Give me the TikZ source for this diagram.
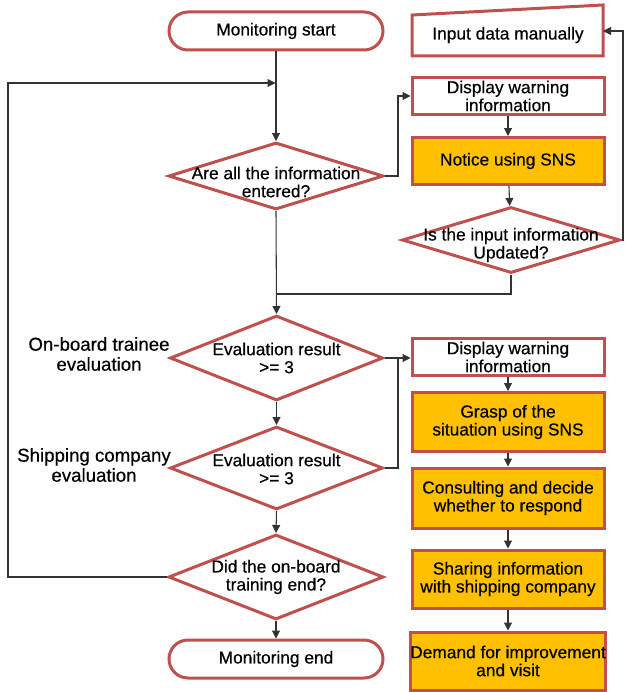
\documentclass[tikz,border=0pt]{standalone}
\usepackage{fontspec}
\setmainfont{Liberation Sans}[FakeBold=0.5]
\usetikzlibrary{shapes.geometric,arrows.meta}
\definecolor{bord}{HTML}{C0504D}
\definecolor{orng}{HTML}{FFC000}
\definecolor{conn}{HTML}{333333}
\begin{document}
\begin{tikzpicture}[x=0.75pt,y=-0.75pt,
  txt/.style={font=\fontsize{13}{13.5}\selectfont, align=center, inner sep=0pt},
  side/.style={font=\fontsize{14}{15}\selectfont, align=center, inner sep=0pt},
  border/.style={draw=bord, line width=2.25pt},
  term/.style={border, rounded corners=14.25pt, minimum width=160.5pt, minimum height=28.5pt, txt},
  box/.style={border, minimum width=144pt, txt},
  obox/.style={box, fill=orng},
  dia/.style={border, diamond, inner sep=0pt},
  conn/.style={draw=conn, line width=0.8pt},
  arr/.style={conn, -{Triangle[length=6pt,width=6pt]}}
]
\useasboundingbox (0,0) rectangle (625,692);

% left column
\node[term] (start) at (276,31) {Monitoring start};
\node[dia, minimum width=161.25pt, minimum height=50.25pt] (d1) at (276,176) {};
\node[txt] (d1t) at (276,182) {Are all the information\\entered?};
\node[dia, minimum width=159.75pt, minimum height=63.75pt] (e1) at (276.5,358) {};
\node[txt] (e1t) at (276.5,358) {Evaluation result\\>= 3};
\node[dia, minimum width=159.75pt, minimum height=62.25pt] (e2) at (276.5,468) {};
\node[txt] (e2t) at (276.5,469) {Evaluation result\\>= 3};
\node[dia, minimum width=161.25pt, minimum height=63.75pt] (d3) at (276,577) {};
\node[txt] (d3t) at (276,577) {Did the on-board\\training end?};
\node[term] (end) at (276,659) {Monitoring end};

\node[side] (lab1) at (99,354) {On-board trainee\\evaluation};
\node[side] (lab2) at (94,465) {Shipping company\\evaluation};

% right column top
\coordinate (inTL) at (412,15);
\coordinate (inTR) at (603,5);
\coordinate (inBR) at (603,56);
\coordinate (inBL) at (412,56);
\draw[border] (inTL) -- (inTR) -- (inBR) -- (inBL) -- cycle;
\node[txt] (inp) at (508,35) {Input data manually};
\coordinate (inR) at (603,31);

\node[box, minimum height=27.75pt] (w1) at (508,96) {Display warning\\information};
\node[obox, minimum height=35.25pt] (n1) at (508,161) {Notice using SNS};
\node[dia, minimum width=163.5pt, minimum height=49.5pt] (d4) at (511,240) {};
\node[txt] (d4t) at (511,245) {Is the input information\\Updated?};

% right column bottom
\node[box, minimum height=27.75pt] (w2) at (508,357) {Display warning\\information};
\node[obox, minimum height=44.25pt] (g) at (508,422) {Grasp of the\\situation using SNS};
\node[obox, minimum height=45pt] (c) at (508,498) {Consulting and decide\\whether to respond};
\node[obox, minimum height=43.5pt] (s) at (508,579) {Sharing information\\with shipping company};
\node[obox, minimum height=43.5pt] (dm) at (508,661) {Demand for improvement\\and visit};

% connectors
\coordinate (loopL1) at (8,577);
\coordinate (loopL2) at (8,83);
\coordinate (loopE) at (275.5,83);
\coordinate (j1) at (276,294);
\coordinate (t1) at (398,176);
\coordinate (t2) at (623,240);
\coordinate (t3) at (398,468);
\coordinate (t4) at (398,358);

\draw[arr] (start) -- (d1);
\draw[arr] (d3.west) -- (loopL1) -- (loopL2) -- (loopE);
\draw[arr] (d1.east) -- (t1) |- (w1.west);
\draw[arr] (w1) -- (n1);
\draw[arr] (n1) -- (d4);
\draw[arr] (d4.east) -- (t2) |- (inR);
\draw[conn] (d4.south) |- (j1);
\draw[arr] (d1.south) -- (e1.north);
\draw[arr] (e1.south) -- (e2.north);
\draw[arr] (e1.east) -- (t4) -- (w2.west |- t4);
\draw[conn] (e2.east) -- (t3) -- (t4);
\draw[arr] (w2) -- (g);
\draw[arr] (g) -- (c);
\draw[arr] (c) -- (s);
\draw[arr] (s) -- (dm);
\draw[arr] (e2.south) -- (d3.north);
\draw[arr] (d3.south) -- (end.north);
\end{tikzpicture}
\end{document}
